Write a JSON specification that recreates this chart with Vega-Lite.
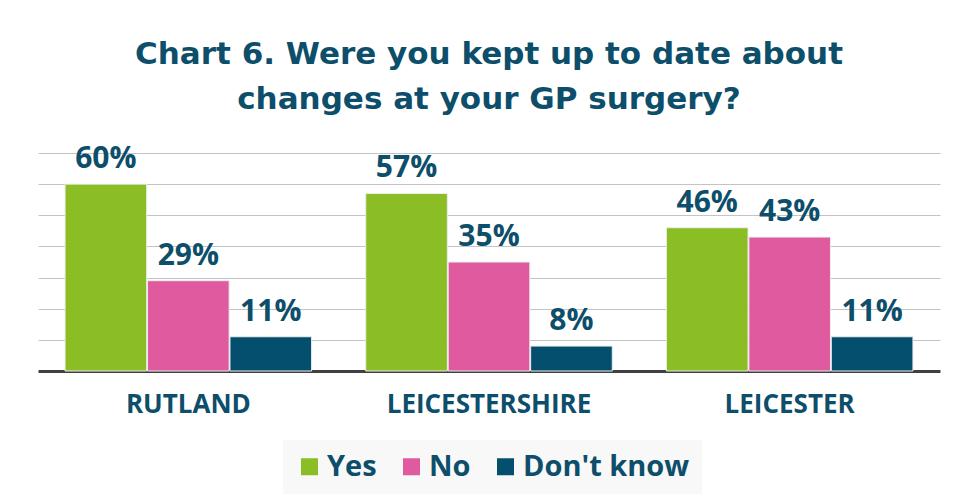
{
  "$schema": "https://vega.github.io/schema/vega-lite/v6.json",
  "width": 902,
  "height": 218,
  "autosize": "none",
  "padding": {"left": 38, "top": 153, "right": 14, "bottom": 130},
  "background": "white",
  "title": {
    "text": ["Chart 6. Were you kept up to date about", "changes at your GP surgery?"],
    "font": "DejaVu Sans",
    "fontSize": 31,
    "fontWeight": "bold",
    "color": "#0D4E6B",
    "lineHeight": 45,
    "anchor": "middle",
    "offset": 28
  },
  "data": {
    "values": [
      {"area": "RUTLAND", "response": "Yes", "pct": 60, "label": "60%"},
      {"area": "RUTLAND", "response": "No", "pct": 29, "label": "29%"},
      {"area": "RUTLAND", "response": "Don't know", "pct": 11, "label": "11%"},
      {"area": "LEICESTERSHIRE", "response": "Yes", "pct": 57, "label": "57%"},
      {"area": "LEICESTERSHIRE", "response": "No", "pct": 35, "label": "35%"},
      {"area": "LEICESTERSHIRE", "response": "Don't know", "pct": 8, "label": "8%"},
      {"area": "LEICESTER", "response": "Yes", "pct": 46, "label": "46%"},
      {"area": "LEICESTER", "response": "No", "pct": 43, "label": "43%"},
      {"area": "LEICESTER", "response": "Don't know", "pct": 11, "label": "11%"}
    ]
  },
  "config": {"view": {"stroke": null}},
  "encoding": {
    "x": {
      "field": "area",
      "type": "nominal",
      "sort": ["RUTLAND", "LEICESTERSHIRE", "LEICESTER"],
      "scale": {"paddingInner": 0.18, "paddingOuter": 0.09},
      "axis": {
        "title": null,
        "ticks": false,
        "labelAngle": 0,
        "labelLimit": 0,
        "domainColor": "#404040",
        "domainWidth": 3,
        "labelFont": "Open Sans",
        "labelFontSize": 26,
        "labelFontWeight": "bold",
        "labelColor": "#0D4E6B",
        "labelPadding": 20
      }
    },
    "xOffset": {
      "field": "response",
      "type": "nominal",
      "sort": ["Yes", "No", "Don't know"],
      "scale": {"paddingInner": 0.01}
    },
    "y": {
      "field": "pct",
      "type": "quantitative",
      "scale": {"domain": [0, 70], "nice": false},
      "axis": {
        "title": null,
        "labels": false,
        "ticks": false,
        "domain": false,
        "grid": true,
        "gridColor": "#C4C4C4",
        "gridWidth": 1,
        "values": [10, 20, 30, 40, 50, 60, 70]
      }
    }
  },
  "layer": [
    {
      "mark": {"type": "bar", "stroke": "#EDEDED", "strokeWidth": 1},
      "encoding": {
        "color": {
          "field": "response",
          "type": "nominal",
          "sort": ["Yes", "No", "Don't know"],
          "scale": {"domain": ["Yes", "No", "Don't know"], "range": ["#8BBD24", "#E05AA0", "#054F6E"]},
          "legend": {
            "title": null,
            "orient": "none",
            "legendX": 245,
            "legendY": 287,
            "direction": "horizontal",
            "fillColor": "#F8F8F8",
            "padding": 12,
            "symbolType": "square",
            "symbolSize": 289,
            "symbolStrokeWidth": 0,
            "symbolOpacity": 1,
            "labelFont": "Open Sans",
            "labelFontSize": 29,
            "labelFontWeight": "bold",
            "labelColor": "#0D4E6B",
            "labelLimit": 0,
            "labelOffset": 3,
            "columnPadding": 20
          }
        }
      }
    },
    {
      "mark": {
        "type": "text",
        "baseline": "alphabetic",
        "dy": -16,
        "font": "Open Sans",
        "fontSize": 30,
        "fontWeight": "bold",
        "color": "#0D4E6B"
      },
      "encoding": {"text": {"field": "label"}}
    }
  ]
}
